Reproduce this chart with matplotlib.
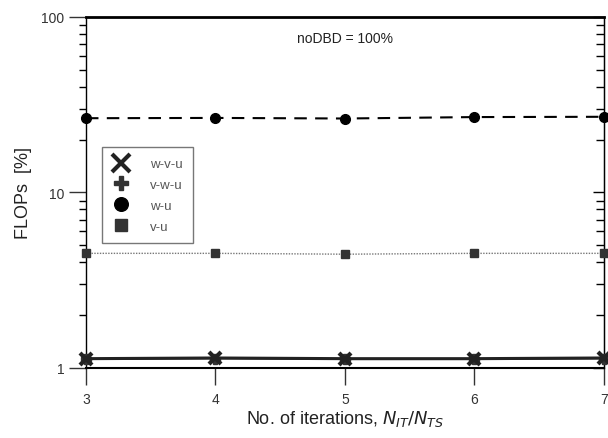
import matplotlib
matplotlib.use('Agg')
import matplotlib.pyplot as plt
from matplotlib.ticker import LogLocator, NullFormatter, FixedLocator

plt.rcParams['font.family'] = ['Liberation Sans', 'DejaVu Sans']

# data
iterations = [3, 4, 5, 6, 7]
wvu = [1.13, 1.14, 1.13, 1.13, 1.14]
vwu = [1.12, 1.13, 1.12, 1.12, 1.13]
wu = [26.5, 26.6, 26.4, 26.9, 27.0]
vu = [4.5, 4.5, 4.45, 4.5, 4.5]

fig = plt.figure(figsize=(6.08, 4.39), dpi=100)
ax = fig.add_axes([0.1414, 0.1595, 0.8520, 0.7995])

ax.plot(iterations, wvu, color='#222222', lw=2.2, marker='x', ms=9, mew=3,
        label='w-v-u', clip_on=False, zorder=5)
ax.plot(iterations, vwu, color='#333333', lw=1.0, marker='P', ms=7,
        label='v-w-u', clip_on=False, zorder=4)
ax.plot(iterations, wu, color='black', lw=1.5, ls=(0, (6, 4)), marker='o', ms=7,
        label='w-u', clip_on=False, zorder=5)
ax.plot(iterations, vu, color='#777777', lw=1.0, ls=(0, (1, 1)), marker='s', ms=6,
        mfc='#333333', mec='#333333', label='v-u', clip_on=False, zorder=5)

ax.set_yscale('log')
ax.set_ylim(1, 100)
ax.set_xlim(3, 7)
ax.set_xticks(iterations)
ax.yaxis.set_major_locator(FixedLocator([1, 10, 100]))
ax.set_yticklabels(['1', '10', '100'])
ax.yaxis.set_minor_locator(LogLocator(base=10, subs=range(2, 10)))
ax.yaxis.set_minor_formatter(NullFormatter())

# left ticks outward, right ticks inward
ax.tick_params(axis='y', which='major', direction='out', length=12, width=1,
               labelsize=10, colors='#333333')
ax.tick_params(axis='y', which='minor', direction='out', length=5, width=1)
sec = ax.secondary_yaxis('right')
sec.yaxis.set_major_locator(FixedLocator([1, 10, 100]))
sec.yaxis.set_minor_locator(LogLocator(base=10, subs=range(2, 10)))
sec.yaxis.set_major_formatter(NullFormatter())
sec.yaxis.set_minor_formatter(NullFormatter())
sec.tick_params(which='major', direction='in', length=8, width=1)
sec.tick_params(which='minor', direction='in', length=6, width=1)

ax.tick_params(axis='x', which='major', direction='out', length=12, width=1,
               labelsize=10, colors='#333333', pad=5)

for s in ['left', 'right']:
    ax.spines[s].set_linewidth(1.0)
ax.spines['top'].set_linewidth(2.0)
ax.spines['bottom'].set_linewidth(1.5)

ax.set_xlabel('No. of iterations, $N_{IT}/N_{TS}$', fontsize=13, color='#222222',
              labelpad=2)
ax.set_ylabel('FLOPs  [%]', fontsize=13, color='#222222', labelpad=7)

ax.text(0.5, 0.93, 'noDBD = 100%', transform=ax.transAxes, ha='center',
        fontsize=10, color='#222222')

leg = ax.legend(loc='upper left', bbox_to_anchor=(0.019, 0.647), frameon=True,
                fancybox=False, edgecolor='#555555', fontsize=9.5,
                handlelength=1.2, borderpad=0.8, labelspacing=0.65,
                handletextpad=1.6, markerscale=1.4)
for t in leg.get_texts():
    t.set_color('#555555')
for h in leg.legend_handles:
    h.set_linestyle('none')

fig.savefig('out.png', dpi=100)
